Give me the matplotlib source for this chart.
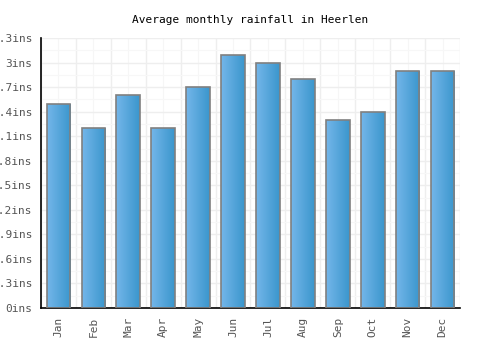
import matplotlib
matplotlib.use("Agg")
import matplotlib.pyplot as plt
import numpy as np
from matplotlib.colors import LinearSegmentedColormap

months = ["Jan", "Feb", "Mar", "Apr", "May", "Jun", "Jul", "Aug", "Sep", "Oct", "Nov", "Dec"]
rainfall = [2.5, 2.2, 2.6, 2.2, 2.7, 3.1, 3.0, 2.8, 2.3, 2.4, 2.9, 2.9]
yticks = [0, 0.3, 0.6, 0.9, 1.2, 1.5, 1.8, 2.1, 2.4, 2.7, 3.0, 3.3]
ytick_labels = ["0ins", "0.3ins", "0.6ins", "0.9ins", "1.2ins", "1.5ins", "1.8ins",
                "2.1ins", "2.4ins", "2.7ins", "3ins", "3.3ins"]

plt.rcParams['font.family'] = ['DejaVu Sans Mono']

fig = plt.figure(figsize=(5, 3.5), dpi=100)
ax = fig.add_axes([0.082, 0.12, 0.838, 0.771])

x = np.arange(len(months))
ax.set_xlim(-0.5, len(months) - 0.5)
ax.set_ylim(0, 3.3)

# grid
for b in np.arange(-0.5, len(months), 1.0):
    ax.axvline(b, color="#eeeeee", lw=1, zorder=0)
for b in np.arange(0, len(months), 1.0):
    ax.axvline(b, color="#f6f6f6", lw=0.8, zorder=0)
for yv in yticks:
    ax.axhline(yv, color="#eeeeee", lw=1, zorder=0)
for yv in np.array(yticks[:-1]) + 0.15:
    ax.axhline(yv, color="#f7f7f7", lw=0.8, zorder=0)

cmap = LinearSegmentedColormap.from_list("g", ["#74b6ea", "#3a96cc"])
grad = np.linspace(0, 1, 256).reshape(1, -1)
w = 0.68
bars = ax.bar(x, rainfall, width=w, facecolor="none", edgecolor="#808080", linewidth=1.2, zorder=3)
for rect in bars:
    x0 = rect.get_x()
    h = rect.get_height()
    im = ax.imshow(grad, cmap=cmap, extent=[x0, x0 + w, 0, h], aspect="auto", zorder=2,
                   interpolation="bilinear")
    im.set_clip_path(rect)
ax.set_xlim(-0.5, len(months) - 0.5)
ax.set_ylim(0, 3.3)

ax.set_xticks(x)
ax.set_xticklabels(months, rotation=90, color="#555555", fontsize=8)
ax.set_yticks(yticks)
ax.set_yticklabels(ytick_labels, color="#555555", fontsize=8)
ax.tick_params(length=0, pad=6)
for s in ["top", "right"]:
    ax.spines[s].set_visible(False)
ax.spines["left"].set_color("black")
ax.spines["bottom"].set_color("black")
ax.spines["left"].set_linewidth(1.2)
ax.spines["bottom"].set_linewidth(1.2)

fig.text(0.5, 0.943, "Average monthly rainfall in Heerlen", ha="center", va="center",
         fontsize=8, color="black")

fig.savefig("out.png", dpi=100)
